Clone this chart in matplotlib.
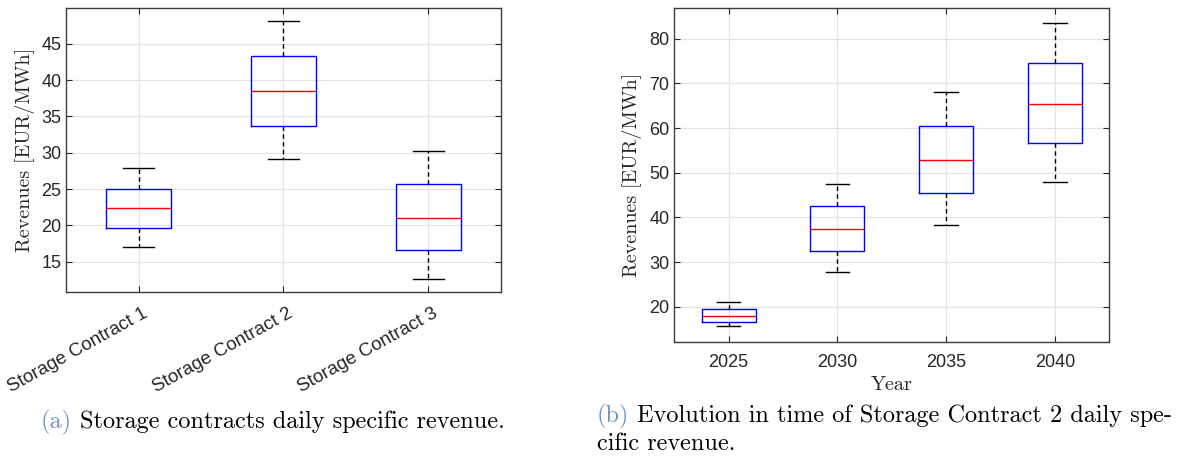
import matplotlib
matplotlib.use("Agg")
import matplotlib.pyplot as plt
from matplotlib.transforms import ScaledTranslation

# ---- data: panel (a) storage contracts ----
contracts = ["Storage Contract 1", "Storage Contract 2", "Storage Contract 3"]
contract_whislo = [17.0, 29.2, 12.6]
contract_q1 = [19.6, 33.7, 16.65]
contract_med = [22.35, 38.45, 21.05]
contract_q3 = [25.05, 43.25, 25.65]
contract_whishi = [27.95, 48.1, 30.3]

# ---- data: panel (b) Storage Contract 2 over time ----
years = ["2025", "2030", "2035", "2040"]
year_whislo = [15.6, 27.7, 38.2, 47.85]
year_q1 = [16.65, 32.45, 45.4, 56.6]
year_med = [17.9, 37.45, 52.9, 65.45]
year_q3 = [19.4, 42.5, 60.5, 74.55]
year_whishi = [21.1, 47.55, 68.0, 83.45]

W, H = 1179, 459
fig = plt.figure(figsize=(W / 100, H / 100), dpi=100)

TICK_FONT = "Liberation Sans"
TICK_SIZE = 13
SERIF = "cmr10"
AX_COLOR = "#262626"


def px_axes(x0, y0, x1, y1):
    """Axes placed by pixel corners (top-left origin)."""
    return fig.add_axes([x0 / W, 1 - y1 / H, (x1 - x0) / W, (y1 - y0) / H])


def draw_boxes(ax, labels, lo, q1, med, q3, hi, box_w):
    stats = [dict(label=l, whislo=a, q1=b, med=c, q3=d, whishi=e, fliers=[])
             for l, a, b, c, d, e in zip(labels, lo, q1, med, q3, hi)]
    ax.bxp(stats, positions=range(1, len(stats) + 1), widths=box_w,
           showfliers=False, capwidths=0.215,
           boxprops=dict(color="#0000ff", linewidth=1.0),
           medianprops=dict(color="#ff0000", linewidth=1.0),
           whiskerprops=dict(color="black", linewidth=1.0, linestyle=(0, (3.2, 2.4))),
           capprops=dict(color="black", linewidth=1.0))
    ax.set_xlim(0.5, len(stats) + 0.5)
    ax.grid(True, color="#e3e3e3", linewidth=0.9)
    ax.set_axisbelow(True)
    ax.tick_params(direction="in", top=True, right=True, length=4.5, width=0.8,
                   color=AX_COLOR, labelcolor=AX_COLOR, labelsize=TICK_SIZE)
    for lab in ax.get_xticklabels() + ax.get_yticklabels():
        lab.set_fontfamily(TICK_FONT)
    for sp in ax.spines.values():
        sp.set_color("#3c3c3c")
        sp.set_linewidth(1.0)


# ---- panel (a) ----
axa = px_axes(66.3, 8.3, 500.7, 292.3)
draw_boxes(axa, contracts, contract_whislo, contract_q1, contract_med,
           contract_q3, contract_whishi, 0.447)
axa.set_ylim(10.79, 49.87)
axa.set_yticks([15, 20, 25, 30, 35, 40, 45])
axa.tick_params(axis="y", pad=3.5)
axa.tick_params(axis="x", pad=14.5)
shift = ScaledTranslation(8.0 / 100, 0, fig.dpi_scale_trans)
for lab in axa.get_xticklabels():
    lab.set_fontsize(13.5)
    lab.set_rotation(29)
    lab.set_rotation_mode("anchor")
    lab.set_ha("right")
    lab.set_va("center")
    lab.set_transform(lab.get_transform() + shift)
axa.set_ylabel("Revenues [EUR/MWh]", fontfamily=SERIF, fontsize=14.5, color=AX_COLOR)
axa.yaxis.set_label_coords(-0.073, 0.5)

# ---- panel (b) ----
axb = px_axes(674.3, 8.3, 1109.3, 341.7)
draw_boxes(axb, years, year_whislo, year_q1, year_med, year_q3, year_whishi, 0.497)
axb.set_ylim(12.16, 86.8)
axb.set_yticks([20, 30, 40, 50, 60, 70, 80])
axb.tick_params(axis="y", pad=3.5)
axb.tick_params(axis="x", pad=8.5)
axb.set_ylabel("Revenues [EUR/MWh]", fontfamily=SERIF, fontsize=14.5, color=AX_COLOR)
axb.yaxis.set_label_coords(-0.075, 0.5)
axb.set_xlabel("Year", fontfamily=SERIF, fontsize=14.5, color=AX_COLOR)
axb.xaxis.set_label_coords(0.5, -0.103)

# ---- sub-captions: coloured tag followed by black text ----
CAP_SIZE = 17.5
CAP_COLOR = "#7094b8"
renderer = fig.canvas.get_renderer()
space_px = 0.333 * CAP_SIZE * 100 / 72


def caption(x, y, tag, body):
    t = fig.text(x / W, 1 - y / H, tag, fontfamily=SERIF, fontsize=CAP_SIZE,
                 color=CAP_COLOR, ha="left", va="baseline")
    x_end = t.get_window_extent(renderer).x1
    fig.text((x_end + space_px) / W, 1 - y / H, body, fontfamily=SERIF,
             fontsize=CAP_SIZE, color="black", ha="left", va="baseline")


def line(x, y, body):
    fig.text(x / W, 1 - y / H, body, fontfamily=SERIF, fontsize=CAP_SIZE,
             color="black", ha="left", va="baseline")


caption(40.7, 428, "(a)", "Storage contracts daily specific revenue.")
caption(596.5, 422, "(b)", "Evolution in time of Storage Contract 2 daily spe-")
line(597, 450, "cific revenue.")

fig.savefig("out.png", dpi=100)
